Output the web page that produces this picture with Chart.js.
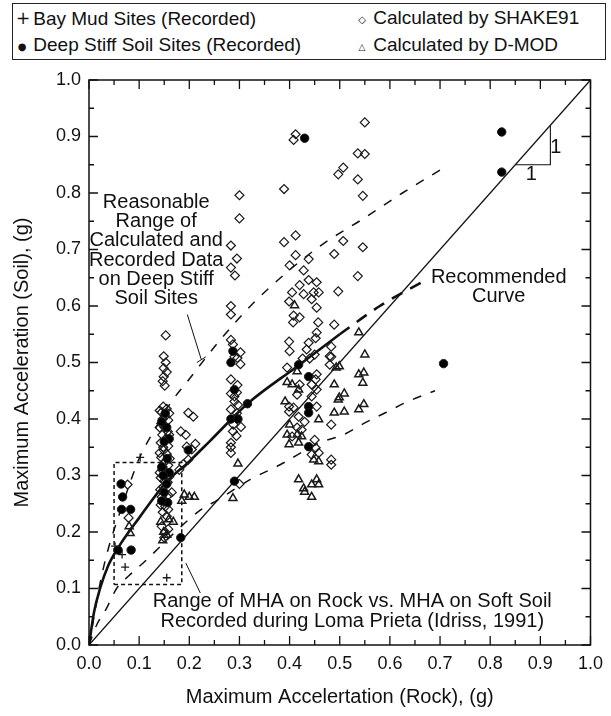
<!DOCTYPE html>
<html>
<head>
<meta charset="utf-8">
<script src="https://cdn.jsdelivr.net/npm/chart.js@4.4.0/dist/chart.umd.min.js"></script>
<style>
  body { margin: 0; background: #fff; }
  #wrap { position: relative; width: 611px; height: 716px; }
  #chart { position: absolute; left: 0; top: 0; }
  #legend {
    position: absolute; left: 12px; top: 3px; width: 592px; height: 55px;
    border: 1.5px solid #222; background: #fff;
    font: 19px "Liberation Sans", Arial, sans-serif; color: #111;
  }
  #legend .item { position: absolute; white-space: nowrap; line-height: 22px; }
  #legend .sym { display: inline-block; width: 12px; text-align: center; font-family: "DejaVu Sans", sans-serif; vertical-align: 1px; }
</style>
</head>
<body>
<div id="wrap">
  <canvas id="chart" width="611" height="716"></canvas>
  <div id="legend">
    <div class="item" style="left:3px; top:3px"><span class="sym" style="font-size:17px">+</span> Bay Mud Sites (Recorded)</div>
    <div class="item" style="left:3px; top:30px"><span class="sym" style="font-size:10px">●</span> Deep Stiff Soil Sites (Recorded)</div>
    <div class="item" style="left:343px; top:3px"><span class="sym" style="font-size:10px">◇</span> Calculated by SHAKE91</div>
    <div class="item" style="left:343px; top:30px"><span class="sym" style="font-size:9px">△</span> Calculated by D-MOD</div>
  </div>
</div>
<script>
// recorded data
const bayMud = [[0.102, 0.332], [0.072, 0.138], [0.066, 0.16], [0.155, 0.119], [0.052, 0.175]]

const deepStiff = [
  [0.064, 0.285], [0.067, 0.262], [0.065, 0.24], [0.083, 0.24], [0.058, 0.168], [0.084, 0.168],
  [0.152, 0.41], [0.145, 0.395], [0.155, 0.385], [0.16, 0.365], [0.15, 0.36], [0.156, 0.33], [0.145, 0.315], [0.16, 0.305],
  [0.148, 0.3], [0.155, 0.285], [0.15, 0.27], [0.157, 0.252], [0.145, 0.255],
  [0.183, 0.19], [0.198, 0.345],
  [0.283, 0.5], [0.29, 0.452], [0.316, 0.427], [0.283, 0.4], [0.297, 0.4], [0.29, 0.29], [0.287, 0.52],
  [0.43, 0.897], [0.418, 0.496], [0.438, 0.475], [0.438, 0.422], [0.438, 0.411], [0.438, 0.351],
  [0.707, 0.498], [0.823, 0.908], [0.823, 0.837]
]

// calculated data
const shake91 = [
  [0.077, 0.284], [0.079, 0.225],
  [0.153, 0.548], [0.149, 0.511], [0.153, 0.5], [0.149, 0.49], [0.155, 0.483], [0.149, 0.475], [0.147, 0.467], [0.151, 0.459],
  [0.148, 0.422], [0.155, 0.418], [0.141, 0.415], [0.145, 0.412], [0.16, 0.41], [0.152, 0.405], [0.147, 0.4], [0.158, 0.398],
  [0.144, 0.392], [0.151, 0.385], [0.141, 0.385], [0.157, 0.378], [0.146, 0.372], [0.16, 0.372], [0.153, 0.365], [0.143, 0.358],
  [0.158, 0.352], [0.148, 0.35], [0.149, 0.345], [0.141, 0.34], [0.155, 0.338], [0.144, 0.332], [0.161, 0.33], [0.152, 0.325],
  [0.158, 0.318], [0.147, 0.315], [0.146, 0.31], [0.141, 0.305], [0.153, 0.302], [0.16, 0.298], [0.143, 0.296], [0.15, 0.29],
  [0.157, 0.288], [0.148, 0.28], [0.142, 0.275], [0.165, 0.27], [0.158, 0.265], [0.145, 0.262], [0.149, 0.255], [0.143, 0.248],
  [0.152, 0.245], [0.158, 0.24], [0.147, 0.235], [0.155, 0.228], [0.145, 0.21], [0.158, 0.205], [0.152, 0.2], [0.15, 0.19],
  [0.198, 0.411], [0.208, 0.404], [0.183, 0.378], [0.193, 0.372], [0.195, 0.351], [0.205, 0.346], [0.212, 0.356], [0.198, 0.328],
  [0.188, 0.32], [0.18, 0.31],
  [0.3, 0.796], [0.3, 0.755], [0.283, 0.707], [0.295, 0.684], [0.283, 0.668], [0.291, 0.654], [0.283, 0.6], [0.283, 0.585],
  [0.283, 0.54], [0.287, 0.532], [0.302, 0.518], [0.29, 0.51], [0.296, 0.508], [0.302, 0.497], [0.283, 0.47], [0.296, 0.46],
  [0.295, 0.447], [0.283, 0.445], [0.29, 0.44], [0.29, 0.431], [0.297, 0.425], [0.283, 0.417], [0.295, 0.41], [0.288, 0.39],
  [0.303, 0.386], [0.287, 0.378], [0.294, 0.37], [0.283, 0.358], [0.283, 0.35], [0.283, 0.34], [0.3, 0.285],
  [0.412, 0.904], [0.408, 0.894], [0.497, 0.833], [0.389, 0.807], [0.412, 0.725], [0.389, 0.713], [0.489, 0.692], [0.412, 0.69],
  [0.438, 0.683], [0.4, 0.672], [0.428, 0.663], [0.438, 0.646], [0.42, 0.637], [0.454, 0.642], [0.497, 0.626], [0.405, 0.624],
  [0.428, 0.621], [0.448, 0.624], [0.458, 0.624], [0.399, 0.608], [0.444, 0.612], [0.454, 0.597], [0.408, 0.583], [0.42, 0.58],
  [0.407, 0.571], [0.457, 0.571], [0.489, 0.567], [0.454, 0.553], [0.452, 0.543], [0.399, 0.537], [0.438, 0.535], [0.4, 0.52],
  [0.434, 0.523], [0.45, 0.514], [0.44, 0.507], [0.426, 0.507], [0.48, 0.511], [0.48, 0.496], [0.395, 0.491], [0.454, 0.479],
  [0.452, 0.47], [0.42, 0.461], [0.444, 0.461], [0.454, 0.452], [0.444, 0.44], [0.415, 0.443], [0.399, 0.422], [0.408, 0.42],
  [0.454, 0.422], [0.399, 0.413], [0.418, 0.404], [0.43, 0.395], [0.483, 0.39], [0.415, 0.385], [0.424, 0.381], [0.405, 0.369],
  [0.45, 0.363], [0.452, 0.349], [0.444, 0.337], [0.458, 0.34], [0.483, 0.328], [0.483, 0.319],
  [0.55, 0.925], [0.536, 0.87], [0.55, 0.869], [0.507, 0.845], [0.536, 0.824], [0.546, 0.795], [0.507, 0.715], [0.546, 0.704],
  [0.536, 0.653], [0.483, 0.528], [0.483, 0.51]
]

const dmod = [
  [0.08, 0.21], [0.082, 0.198],
  [0.159, 0.222], [0.143, 0.218], [0.168, 0.218], [0.149, 0.2], [0.147, 0.185], [0.155, 0.195],
  [0.19, 0.266], [0.2, 0.262], [0.21, 0.262], [0.185, 0.255],
  [0.297, 0.321], [0.287, 0.26],
  [0.41, 0.601], [0.493, 0.491], [0.415, 0.484], [0.395, 0.465], [0.405, 0.461], [0.489, 0.461], [0.418, 0.452], [0.391, 0.431],
  [0.497, 0.434], [0.458, 0.399], [0.4, 0.39], [0.395, 0.372], [0.415, 0.372], [0.424, 0.369], [0.399, 0.355], [0.418, 0.358],
  [0.448, 0.328], [0.458, 0.325], [0.418, 0.293], [0.454, 0.293], [0.444, 0.284], [0.458, 0.284], [0.43, 0.271], [0.444, 0.262], [0.428, 0.277],
  [0.538, 0.553], [0.499, 0.493], [0.55, 0.514], [0.538, 0.479], [0.548, 0.482], [0.546, 0.464], [0.499, 0.438], [0.509, 0.445],
  [0.489, 0.411], [0.509, 0.413], [0.538, 0.417], [0.548, 0.426]
]

// curves
const oneToOne = [[0, 0], [1, 1]]
const recommended = [[0, 0], [0.01, 0.058], [0.022, 0.1], [0.038, 0.14], [0.058, 0.172], [0.1, 0.225],
  [0.153, 0.287], [0.2, 0.325], [0.24, 0.36], [0.316, 0.427], [0.415, 0.493], [0.5, 0.55]]
const recommendedExt = [[0.5, 0.55], [0.58, 0.6], [0.676, 0.648]]
const upperBound = [[0, 0], [0.01, 0.05], [0.02, 0.1], [0.031, 0.145], [0.045, 0.19], [0.06, 0.23], [0.087, 0.3], [0.1, 0.33],
  [0.14, 0.395], [0.163, 0.429], [0.195, 0.465], [0.257, 0.535], [0.322, 0.6], [0.395, 0.66], [0.467, 0.71], [0.546, 0.754],
  [0.625, 0.8], [0.71, 0.846]]
const lowerBound = [[0, 0], [0.015, 0.035], [0.035, 0.065], [0.055, 0.1], [0.08, 0.123], [0.114, 0.15], [0.16, 0.19],
  [0.218, 0.236], [0.257, 0.257], [0.322, 0.293], [0.381, 0.319], [0.46, 0.358], [0.507, 0.372], [0.552, 0.394],
  [0.591, 0.411], [0.636, 0.431], [0.69, 0.45]]
const lomaPrietaBox = [[0.05, 0.107], [0.185, 0.107], [0.185, 0.323], [0.05, 0.323], [0.05, 0.107]]
const slopeMark = [[0.85, 0.85], [0.92, 0.85], [0.92, 0.92]]

const tickValues = [0, 0.1, 0.2, 0.3, 0.4, 0.5, 0.6, 0.7, 0.8, 0.9, 1.0]

const FONT = "'Liberation Sans', Arial, sans-serif"
const pts = arr => arr.map(p => ({ x: p[0], y: p[1] }))

const markers = (data, style, radius, fill, width) => ({
  data: pts(data), pointStyle: style, pointRadius: radius, borderWidth: width,
  borderColor: '#1a1a1a', backgroundColor: fill, showLine: false
})
const line = (data, width, dash, smooth) => ({
  data: pts(data), showLine: true, pointRadius: 0, borderColor: '#111', borderWidth: width,
  borderDash: dash || [], fill: false, cubicInterpolationMode: smooth ? 'monotone' : 'default', tension: 0
})

// text and frame drawn on top of the plot
const notes = {
  id: 'notes',
  afterDatasetsDraw(chart) {
    const { ctx, chartArea: a, scales: { x, y } } = chart
    ctx.save()
    ctx.strokeStyle = '#111'
    ctx.lineWidth = 1.5
    ctx.strokeRect(a.left, a.top, a.right - a.left, a.bottom - a.top)

    // inward ticks on all four sides
    ctx.lineWidth = 1.3
    for (let i = 0; i <= 20; i++) {
      const v = i * 0.05
      const len = i % 2 === 0 ? 9 : 5
      const px = x.getPixelForValue(v), py = y.getPixelForValue(v)
      ctx.beginPath()
      ctx.moveTo(px, a.bottom); ctx.lineTo(px, a.bottom - len)
      ctx.moveTo(px, a.top); ctx.lineTo(px, a.top + len)
      ctx.moveTo(a.left, py); ctx.lineTo(a.left + len, py)
      ctx.moveTo(a.right, py); ctx.lineTo(a.right - len, py)
      ctx.stroke()
    }

    const text = (s, vx, vy) => {
      ctx.fillText(s, x.getPixelForValue(vx), y.getPixelForValue(vy))
    }
    ctx.fillStyle = '#111'
    ctx.textAlign = 'center'
    ctx.textBaseline = 'middle'
    ctx.font = '20px ' + FONT
    const range = ['Reasonable', 'Range of', 'Calculated and', 'Recorded Data', 'on Deep Stiff', 'Soil Sites']
    range.forEach((s, i) => text(s, 0.134, 0.784 - i * 0.0342))
    text('Recommended', 0.817, 0.651)
    text('Curve', 0.817, 0.617)
    text('Range of MHA on Rock vs. MHA on Soft Soil', 0.525, 0.077)
    text('Recorded during Loma Prieta (Idriss, 1991)', 0.525, 0.041)
    text('1', 0.931, 0.881)
    text('1', 0.882, 0.832)

    // leader lines
    const seg = (x1, y1, x2, y2) => {
      ctx.beginPath()
      ctx.moveTo(x.getPixelForValue(x1), y.getPixelForValue(y1))
      ctx.lineTo(x.getPixelForValue(x2), y.getPixelForValue(y2))
      ctx.stroke()
    }
    ctx.lineWidth = 1
    seg(0.196, 0.585, 0.224, 0.505)
    seg(0.215, 0.5, 0.233, 0.51)
    seg(0.193, 0.145, 0.222, 0.092)
    ctx.restore()
  }
}

const axisTicks = {
  stepSize: 0.1, autoSkip: false, maxRotation: 0, color: '#111', padding: 8,
  font: { family: FONT, size: 18 },
  callback: v => v.toFixed(1)
}

new Chart(document.getElementById('chart').getContext('2d'), {
  type: 'scatter',
  data: {
    datasets: [
      markers(deepStiff, 'circle', 4.2, '#000', 1),
      markers(bayMud, 'cross', 4, 'rgba(0,0,0,0)', 1.3),
      markers(dmod, 'triangle', 4.6, 'rgba(0,0,0,0)', 1.5),
      markers(shake91, 'rectRot', 4.5, 'rgba(0,0,0,0)', 1.2),
      line(oneToOne, 1.3),
      line(recommended, 2.6, null, true),
      line(recommendedExt, 2.6, [12, 9], true),
      line(upperBound, 1.5, [9, 10], true),
      line(lowerBound, 1.5, [9, 10], true),
      line(lomaPrietaBox, 1.5, [4, 3]),
      line(slopeMark, 1.1)
    ]
  },
  options: {
    responsive: false,
    animation: false,
    devicePixelRatio: 1,
    layout: { padding: { top: 80, right: 13, left: 0, bottom: 0 } },
    plugins: { legend: { display: false }, tooltip: { enabled: false } },
    scales: {
      x: {
        type: 'linear', min: 0, max: 1,
        afterFit: s => { s.height = 71 },
        afterBuildTicks: s => { s.ticks = tickValues.map(v => ({ value: v })) },
        ticks: axisTicks,
        grid: { display: false, drawTicks: false },
        border: { display: false },
        title: { display: true, text: 'Maximum Accelertation (Rock), (g)', color: '#111',
          font: { family: FONT, size: 20 }, padding: { bottom: 7 } }
      },
      y: {
        type: 'linear', min: 0, max: 1,
        afterFit: s => { s.width = 89 },
        afterBuildTicks: s => { s.ticks = tickValues.map(v => ({ value: v })) },
        ticks: axisTicks,
        grid: { display: false, drawTicks: false },
        border: { display: false },
        title: { display: true, text: 'Maximum Acceleration (Soil), (g)', color: '#111',
          font: { family: FONT, size: 20 }, padding: { top: 10 } }
      }
    }
  },
  plugins: [notes]
})
</script>
</body>
</html>
